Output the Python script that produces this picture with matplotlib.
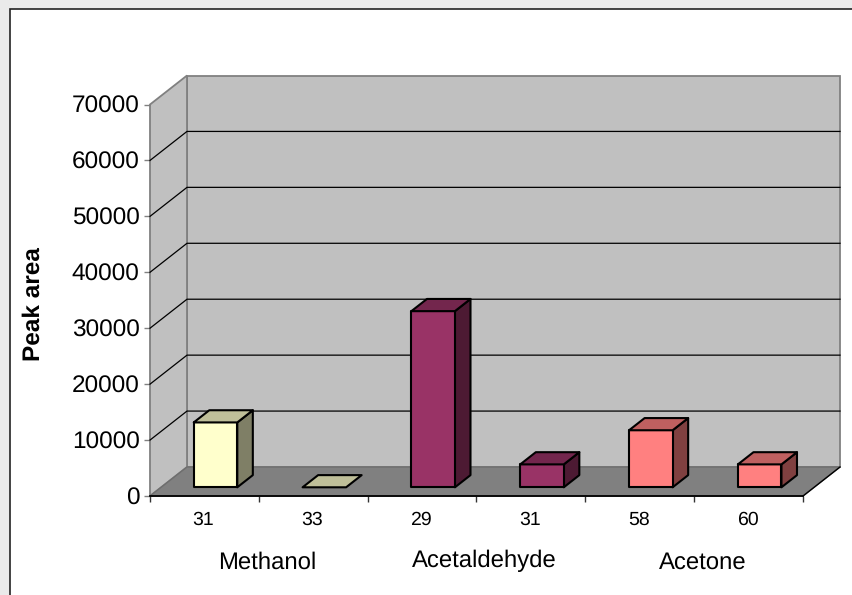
import matplotlib
matplotlib.use('Agg')
import matplotlib.pyplot as plt
from matplotlib.patches import Polygon, Rectangle

plt.rcParams['font.family'] = ['Liberation Sans', 'DejaVu Sans']
plt.rcParams['text.hinting'] = 'no_hinting'

masses = ['31', '33', '29', '31', '58', '60']
peak_area = [11600, 0, 31500, 4100, 10200, 4100]
compounds = ['Methanol', 'Acetaldehyde', 'Acetone']
yticks = [0, 10000, 20000, 30000, 40000, 50000, 60000, 70000]

front_colors = ['#FFFFCC', '#FFFFCC', '#993366', '#993366', '#FF8080', '#FF8080']
top_colors = ['#BFBF99', '#BFBF99', '#73264D', '#73264D', '#BF6060', '#BF6060']
side_colors = ['#7F7F66', '#7F7F66', '#4D1A33', '#4D1A33', '#804040', '#804040']

W, H = 853, 595
# oblique offset of the back wall, in data units
DX = 37 / 108.83
DY = 29 / (391.5 / 70000)


def project(x, y, d):
    return (x + d * DX, y + d * DY)


def poly(ax, pts, **kw):
    ax.add_patch(Polygon(pts, closed=True, clip_on=False, **kw))


fig = plt.figure(figsize=(W / 100, H / 100), dpi=100, facecolor='#EAEAEA')

fig.add_artist(Rectangle((10.5 / W, -0.01), (W + 20) / W, 1 - 9 / H + 0.01,
                         transform=fig.transFigure, facecolor='white',
                         edgecolor='#222222', linewidth=1.2, zorder=-1))

ax = fig.add_axes([150 / W, 1 - 496 / H, 653 / W, 391.5 / H])
ax.set_xlim(0, 6)
ax.set_ylim(0, 70000)
ax.patch.set_visible(False)
for s in ax.spines.values():
    s.set_visible(False)

# walls and floor
poly(ax, [project(0, 0, 1), project(6, 0, 1), project(6, 70000, 1), project(0, 70000, 1)],
     facecolor='#C0C0C0', edgecolor='#808080', linewidth=1.3, zorder=1)
poly(ax, [project(0, 0, 0), project(0, 0, 1), project(0, 70000, 1), project(0, 70000, 0)],
     facecolor='#C0C0C0', edgecolor='#808080', linewidth=1.3, zorder=1)
poly(ax, [project(0, 0, 0), project(6, 0, 0), project(6, 0, 1), project(0, 0, 1)],
     facecolor='#808080', edgecolor='#6E6E6E', linewidth=1, zorder=2)

# gridlines run along the side wall and across the back
for v in yticks[1:-1]:
    ax.plot(*zip(project(0, v, 0), project(0, v, 1), project(6, v, 1)),
            color='black', lw=0.9, zorder=3, clip_on=False)

ax.plot([0, 6], [0, 0], color='black', lw=1.3, zorder=4, clip_on=False)
ax.plot(*zip(project(6, 0, 0), project(6, 0, 1)), color='black', lw=1, zorder=4, clip_on=False)

# bars stand part way into the depth of the floor
d0, d1 = 0.30, 0.72
bar_w = 0.4
for i, val in enumerate(peak_area):
    x0 = i + 0.5 - bar_w / 2
    x1 = i + 0.5 + bar_w / 2
    style = dict(edgecolor='black', linewidth=1.5, joinstyle='round', zorder=5)
    if val > 0:
        poly(ax, [project(x1, 0, d0), project(x1, 0, d1), project(x1, val, d1), project(x1, val, d0)],
             facecolor=side_colors[i], **style)
        poly(ax, [project(x0, 0, d0), project(x1, 0, d0), project(x1, val, d0), project(x0, val, d0)],
             facecolor=front_colors[i], **style)
    poly(ax, [project(x0, val, d0), project(x1, val, d0), project(x1, val, d1), project(x0, val, d1)],
         facecolor=top_colors[i], **style)

ax.set_yticks(yticks)
ax.set_yticklabels([str(v) for v in yticks], fontsize=17.6, color='black')
ax.tick_params(axis='y', length=4.5, width=1, color='#808080', pad=3)

ax.set_xticks(range(7))
ax.set_xticklabels([])
ax.tick_params(axis='x', length=4.5, width=1, color='#333333')

for i, m in enumerate(masses):
    ax.text(i + 0.5 - 0.01, -23.5 / 391.5 * 70000, m, ha='center', va='center', fontsize=14)

# compound names sit under each pair of masses
fig.text(267 / W, 1 - 563 / H, compounds[0], ha='center', va='center', fontsize=17.2)
fig.text(484 / W, 1 - 561 / H, compounds[1], ha='center', va='center', fontsize=17.2)
fig.text(703 / W, 1 - 563 / H, compounds[2], ha='center', va='center', fontsize=17.2)

fig.text(34 / W, 1 - 304 / H, 'Peak area', rotation=90, ha='center', va='center',
         fontsize=17.6, fontweight='bold')

fig.savefig('out.png', dpi=100, facecolor=fig.get_facecolor())
